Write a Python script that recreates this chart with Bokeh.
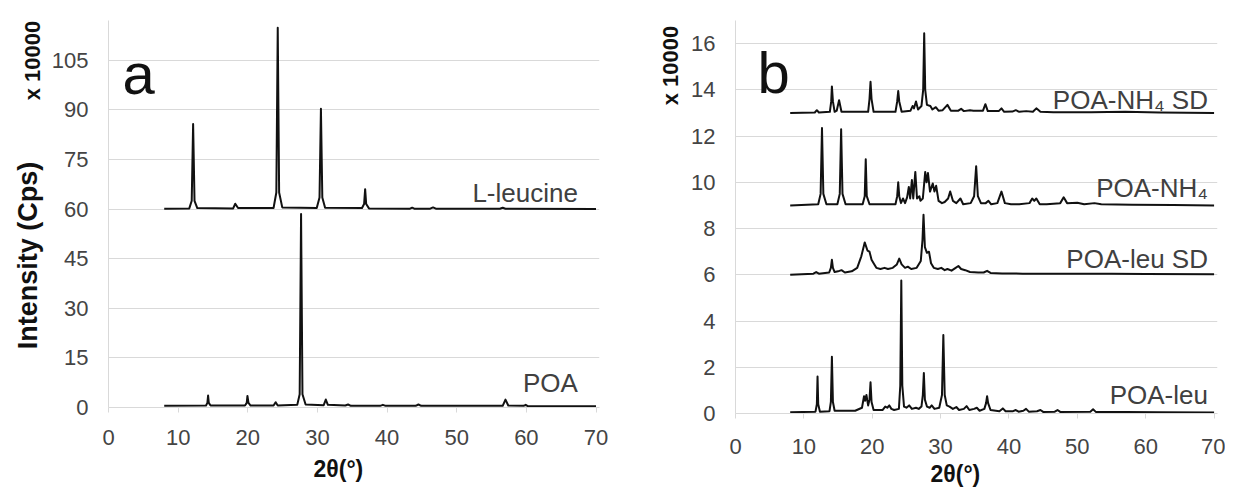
import math
from bokeh.plotting import figure
from bokeh.layouts import row, column
from bokeh.models import FixedTicker, Label, Title
from bokeh.embed import file_html
from bokeh.resources import INLINE

# ---------------- data ----------------
X_TICKS = [0, 10, 20, 30, 40, 50, 60, 70]
A_Y_TICKS = [0, 15, 30, 45, 60, 75, 90, 105]
B_Y_TICKS = [0, 2, 4, 6, 8, 10, 12, 14, 16]

# Panel a (intensity, x 10000 cps)
leucine_x = [8, 11.6, 11.95, 12.15, 12.35, 12.75, 17.9, 18.2, 18.6, 23.7, 24.1, 24.3, 24.5, 24.95,
             29.9, 30.3, 30.5, 30.7, 31.1, 36.4, 36.7, 36.85, 37.0, 37.4, 43.3, 43.6, 43.9,
             46.2, 46.6, 47.0, 56.2, 56.6, 57.0, 70]
leucine_y = [60.1, 60.2, 62.5, 85.7, 62.5, 60.3, 60.2, 61.6, 60.3, 60.3, 65.0, 114.8, 65.0, 60.5,
             60.3, 63.5, 90.3, 63.5, 60.4, 60.3, 61.5, 66.0, 61.5, 60.2, 60.1, 60.4, 60.1,
             60.1, 60.5, 60.1, 60.1, 60.4, 60.1, 60.0]

poa_x = [8, 14.0, 14.2, 14.3, 14.4, 14.65, 19.6, 19.85, 19.95, 20.1, 20.4, 23.7, 24.0, 24.3,
         27.1, 27.45, 27.65, 27.85, 28.3, 30.9, 31.2, 31.5, 34.0, 34.4, 34.8, 39.0, 39.4, 39.8,
         44.1, 44.5, 44.9, 56.6, 57.0, 57.4, 59.6, 59.9, 60.2, 70]
poa_y = [0.5, 0.6, 1.4, 3.6, 1.4, 0.6, 0.6, 1.4, 3.5, 1.4, 0.6, 0.6, 1.6, 0.6,
         0.8, 4.0, 58.5, 4.0, 0.9, 0.7, 2.4, 0.8, 0.6, 0.9, 0.5, 0.5, 0.8, 0.5,
         0.5, 0.9, 0.5, 0.5, 2.4, 0.6, 0.5, 0.8, 0.4, 0.4]

# Panel b (intensity, x 10000 cps, traces offset)
nh4sd_x = [8, 11.6, 11.9, 12.2, 13.8, 14.0, 14.1, 14.25, 14.5, 14.8, 15.15, 15.5, 19.4, 19.6, 19.75,
           19.9, 20.2, 23.4, 23.65, 23.8, 23.95, 24.3, 25.6, 25.9, 26.1, 26.4, 26.7, 27.2, 27.45,
           27.6, 27.75, 28.0, 28.5, 28.8, 29.3, 29.7, 30.3, 31.0, 31.5, 32.6, 33.0, 33.4, 34.3,
           34.8, 35.5, 36.2, 36.55, 36.9, 38.5, 38.9, 39.3, 40.5, 41.0, 41.5, 42.5, 43.5, 44.0,
           44.6, 46.5, 52, 57, 62, 70]
nh4sd_y = [13.0, 13.02, 13.12, 13.02, 13.05, 13.5, 14.15, 13.5, 13.05, 13.1, 13.55, 13.05, 13.05, 13.6, 14.35,
           13.6, 13.05, 13.05, 13.5, 13.95, 13.5, 13.05, 13.1, 13.3, 13.2, 13.5, 13.15, 13.3, 14.0,
           16.45, 14.0, 13.35, 13.3, 13.15, 13.25, 13.1, 13.12, 13.35, 13.1, 13.1, 13.18, 13.08, 13.12,
           13.1, 13.1, 13.1, 13.38, 13.08, 13.08, 13.2, 13.05, 13.06, 13.12, 13.05, 13.08, 13.05, 13.2,
           13.05, 13.03, 13.03, 13.05, 13.02, 13.0]

nh4_x = [8, 12.1, 12.45, 12.65, 12.85, 13.3, 14.9, 15.25, 15.45, 15.65, 16.1, 18.6, 18.9, 19.05, 19.2,
         19.6, 23.4, 23.65, 23.8, 23.95, 24.2, 24.5, 24.8, 25.1, 25.35, 25.55, 25.8, 26.0, 26.3,
         26.55, 26.9, 27.05, 27.4, 27.75, 27.95, 28.15, 28.45, 28.85, 29.1, 29.35, 29.7, 30.2, 30.6,
         31.1, 31.4, 31.8, 32.3, 32.9, 33.3, 34.4, 34.9, 35.2, 35.45, 35.9, 36.6, 37.0, 37.4, 38.3,
         38.9, 39.4, 40.3, 41.5, 43.0, 43.4, 43.7, 44.0, 44.5, 45.5, 47.5, 48.0, 48.5, 50.0, 51.0,
         52.5, 53.5, 58, 64, 70]
nh4_y = [9.0, 9.05, 9.5, 12.35, 9.5, 9.05, 9.05, 9.5, 12.3, 9.5, 9.05, 9.05, 9.4, 11.0, 9.4,
         9.05, 9.05, 9.4, 10.0, 9.4, 9.1, 9.3, 9.1, 9.35, 9.8, 9.3, 10.1, 9.3, 10.45,
         9.3, 9.4, 9.2, 9.3, 10.45, 10.0, 10.4, 9.6, 9.95, 9.6, 9.85, 9.2, 9.1, 9.15,
         9.3, 9.6, 9.2, 9.1, 9.3, 9.05, 9.1, 9.4, 10.7, 9.4, 9.1, 9.1, 9.2, 9.05, 9.1,
         9.6, 9.1, 9.05, 9.05, 9.1, 9.3, 9.2, 9.3, 9.05, 9.05, 9.1, 9.35, 9.1, 9.12, 9.05,
         9.1, 9.05, 9.03, 9.02, 9.0]

leusd_x = [8, 11.4, 11.8, 12.2, 13.7, 13.95, 14.1, 14.25, 14.5, 15.0, 15.5, 16.0, 17.0, 17.8, 18.4,
           18.9, 19.3, 19.6, 19.9, 20.2, 20.6, 21.2, 21.8, 22.3, 23.0, 23.6, 23.95, 24.3, 24.8,
           25.2, 25.7, 26.5, 27.1, 27.35, 27.5, 27.7, 28.0, 28.3, 28.6, 29.0, 29.6, 30.1, 30.6,
           31.0, 31.6, 32.2, 32.6, 33.0, 33.6, 34.3, 35.5, 36.3, 36.8, 37.3, 39, 42, 46, 50, 55, 60, 70]
leusd_y = [6.0, 6.05, 6.12, 6.05, 6.1, 6.3, 6.65, 6.3, 6.12, 6.15, 6.2, 6.1, 6.15, 6.3, 6.8,
           7.4, 7.05, 7.0, 6.65, 6.5, 6.3, 6.25, 6.3, 6.25, 6.3, 6.45, 6.7, 6.45, 6.3,
           6.35, 6.25, 6.3, 6.6, 7.5, 8.6, 7.2, 6.95, 7.0, 6.5, 6.3, 6.25, 6.3, 6.2,
           6.25, 6.18, 6.3, 6.38, 6.25, 6.2, 6.12, 6.1, 6.1, 6.17, 6.08, 6.06, 6.05, 6.05, 6.04, 6.04, 6.03, 6.02]

leu_x = [8, 11.7, 11.9, 12.0, 12.1, 12.35, 13.75, 13.95, 14.1, 14.25, 14.5, 17.5, 18.5, 18.8, 18.95,
         19.15, 19.4, 19.6, 19.75, 19.9, 20.2, 21.5, 21.9, 22.2, 22.5, 22.8, 23.2, 23.9, 24.1,
         24.25, 24.4, 24.65, 25.0, 25.4, 25.8, 26.4, 26.8, 27.2, 27.4, 27.55, 27.7, 28.0, 28.4,
         28.7, 29.1, 29.8, 30.2, 30.4, 30.6, 30.9, 31.3, 31.8, 32.3, 32.7, 33.4, 33.8, 34.2,
         34.9, 35.3, 35.7, 36.4, 36.65, 36.8, 36.95, 37.3, 38.6, 39.1, 39.5, 40.6, 41.0, 41.4,
         42.1, 42.5, 42.9, 44.1, 44.6, 45.0, 46.7, 47.1, 47.5, 51.9, 52.3, 52.7, 57, 62, 70]
leu_y = [0.05, 0.08, 0.4, 1.6, 0.4, 0.08, 0.1, 0.5, 2.45, 0.5, 0.12, 0.12, 0.25, 0.75, 0.55,
         0.8, 0.35, 0.6, 1.35, 0.5, 0.15, 0.15, 0.3, 0.25, 0.35, 0.2, 0.15, 0.2, 1.2,
         5.75, 1.2, 0.3, 0.25, 0.35, 0.2, 0.25, 0.2, 0.3, 0.8, 1.75, 0.6, 0.3, 0.25,
         0.35, 0.2, 0.25, 0.8, 3.4, 0.8, 0.35, 0.3, 0.2, 0.28, 0.15, 0.2, 0.32, 0.15,
         0.2, 0.25, 0.12, 0.2, 0.45, 0.75, 0.45, 0.15, 0.1, 0.22, 0.1, 0.1, 0.15, 0.08,
         0.12, 0.2, 0.08, 0.1, 0.15, 0.07, 0.08, 0.15, 0.07, 0.08, 0.18, 0.07, 0.06, 0.05, 0.04]

A_SERIES = [("L-leucine", leucine_x, leucine_y, 64.9), ("POA", poa_x, poa_y, 7.5)]
B_SERIES = [("POA-NH₄ SD", nh4sd_x, nh4sd_y, 13.55), ("POA-NH₄", nh4_x, nh4_y, 9.74),
            ("POA-leu SD", leusd_x, leusd_y, 6.67), ("POA-leu", leu_x, leu_y, 0.82)]

FONT = "Liberation Sans"
GRID = "#d9d9d9"
H = 493


def style(p, yticks, x_standoff):
    p.xgrid.visible = False
    p.ygrid.grid_line_color = GRID
    p.ygrid.grid_line_width = 1
    p.outline_line_color = None
    p.background_fill_color = "white"
    p.border_fill_color = "white"
    for ax in (p.xaxis[0], p.yaxis[0]):
        ax.axis_line_color = GRID
        ax.major_tick_line_color = GRID
        ax.minor_tick_line_color = None
        ax.major_label_text_font = FONT
        ax.major_label_text_font_size = "22px"
        ax.major_label_text_color = "#444444"
    p.xaxis.ticker = FixedTicker(ticks=X_TICKS)
    p.yaxis.ticker = FixedTicker(ticks=yticks)
    p.xaxis.major_tick_in = 0
    p.xaxis.major_tick_out = 5
    p.yaxis.major_tick_in = 0
    p.yaxis.major_tick_out = 0
    p.xaxis.major_label_standoff = x_standoff
    p.yaxis.major_label_standoff = 20


def label(p, x, y, text, size, bold=False, align="left", baseline="alphabetic",
          angle=0.0, color="#111111"):
    p.add_layout(Label(x=x, y=y, text=text, text_font=FONT, text_font_size=size,
                       text_font_style="bold" if bold else "normal", text_align=align,
                       text_baseline=baseline, angle=angle, text_color=color))


def x_title(p, offset, standoff):
    p.add_layout(Title(text="2θ(°)", align="left", offset=offset, vertical_align="top",
                       standoff=standoff, text_font=FONT, text_font_size="23px",
                       text_font_style="bold", text_color="#111111"), "below")


def strip(width):
    # narrow text-only strip; its data coordinates are its own pixels (y downwards)
    s = figure(width=width, height=H, x_range=(0, width), y_range=(H, 0),
               x_axis_type=None, y_axis_type=None, min_border=0,
               min_border_left=0, min_border_right=0, min_border_top=0, min_border_bottom=0,
               toolbar_location=None, output_backend="svg")
    s.grid.visible = False
    s.outline_line_color = None
    s.background_fill_color = "white"
    s.border_fill_color = "white"
    return s


# ---------------- left strip: y-axis titles of panel a ----------------
sl = strip(46)
label(sl, 27, 255, "Intensity (Cps)", "27px", bold=True, align="center", baseline="middle",
      angle=math.pi / 2)
label(sl, 32, 60, "x 10000", "22px", bold=True, align="center", baseline="middle",
      angle=math.pi / 2)

# ---------------- panel a ----------------
# frame: top at 20 px, bottom at 407 px of the page
pa = figure(width=574, height=H, x_range=(0, 70.5), y_range=(0, 117),
            min_border_left=62, min_border_right=21, min_border_top=20, min_border_bottom=86,
            toolbar_location=None, output_backend="svg")
style(pa, A_Y_TICKS, 17)
for name, xs, ys, ly in A_SERIES:
    pa.line(xs, ys, line_color="#111111", line_width=2, line_join="round")
    label(pa, 67.4, ly, name, "26px", align="right", color="#404040")
label(pa, 2.0, 101, "a", "58px")
x_title(pa, 205, 16)

# ---------------- middle strip: y-axis title of panel b ----------------
sm = strip(64)
label(sm, 50, 65, "x 10000", "22px", bold=True, align="center", baseline="middle",
      angle=math.pi / 2)

# ---------------- panel b ----------------
# frame: top at 20 px, bottom at 413 px of the page
pb = figure(width=541, height=H, x_range=(0, 70.5), y_range=(0, 17.0),
            min_border_left=51, min_border_right=8, min_border_top=20, min_border_bottom=80,
            toolbar_location=None, output_backend="svg")
style(pb, B_Y_TICKS, 20)
for name, xs, ys, ly in B_SERIES:
    pb.line(xs, ys, line_color="#111111", line_width=2, line_join="round")
    label(pb, 69.1, ly, name, "26px", align="right", color="#404040")
label(pb, 3.2, 14.76, "b", "58px")
x_title(pb, 195, 8)

layout = row(column(sl), column(pa), column(sm), column(pb))
open("out.html", "w").write(file_html(layout, INLINE))
